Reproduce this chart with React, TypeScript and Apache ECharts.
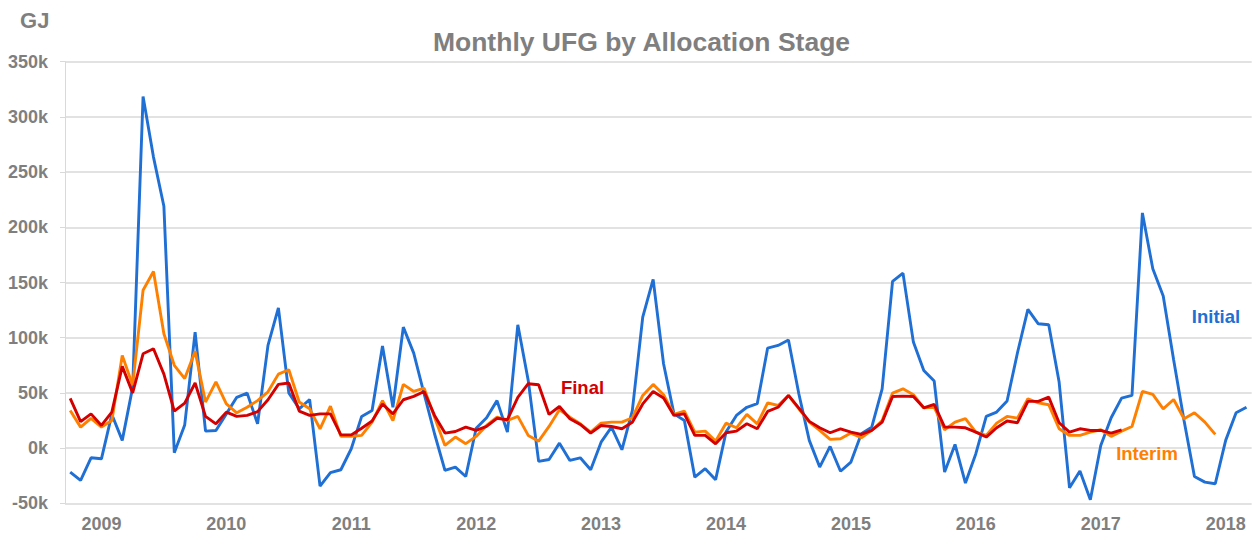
import React, { useEffect, useRef } from "react";
import * as echarts from "echarts";

// Monthly categories: Oct 2008 .. Mar 2018 (114 months)
const START_YEAR = 2008;
const START_MONTH = 10;
const MONTH_COUNT = 114;
const categories: string[] = [];
for (let i = 0; i < MONTH_COUNT; i++) {
  const m0 = START_MONTH - 1 + i;
  const y = START_YEAR + Math.floor(m0 / 12);
  const m = (m0 % 12) + 1;
  categories.push(`${y}-${m < 10 ? "0" + m : m}`);
}

const yTicks = [-50, 0, 50, 100, 150, 200, 250, 300, 350];

// values in thousand GJ
const initialK = [
  -21.7, -29.3, -8.8, -9.7, 30.5, 7, 55, 318.5, 263.6, 219,
  -4.2, 21, 105, 15.4, 16, 31, 46, 49.8, 22, 93,
  127, 50, 35.6, 44, -34.4, -22.3, -19.6, -0.6, 28.7, 34,
  92.4, 37, 109.6, 86, 49, 13, -20.2, -17.2, -25.7, 18,
  27.5, 43, 14.5, 111.7, 61.3, -12, -10.3, 4.5, -11.2, -8.8,
  -19.6, 5.4, 19, -1.5, 34, 118.7, 152.8, 76.4, 31, 25,
  -26.3, -18.7, -28.7, 14.5, 29.6, 37, 40.2, 90.6, 93, 98,
  49, 7, -17.2, 1.5, -21, -12.7, 13, 19, 53.7, 151,
  158.5, 96, 70.3, 60.7, -21.7, 3.3, -31.7, -5.1, 28.7, 32.6,
  42.6, 86.4, 125.6, 112.6, 111.7, 59.8, -36, -20.8, -46.8, 2.4,
  27.5, 45.3, 47.7, 213, 162.4, 137.7, 80, 25, -25.7, -30.8,
  -32.3, 7, 32, 37,
];

const interimK = [
  34, 19, 27, 19, 25, 84, 57, 143, 160, 103.6,
  75, 63, 87.6, 41.7, 60, 40, 32, 37, 43, 51,
  67, 71, 41.7, 35.6, 17.5, 38, 10.6, 10.6, 11.5, 23.5,
  43, 25, 57.7, 51.3, 54.3, 28, 2.4, 10, 4, 10.6,
  20.5, 28, 25, 28.7, 11.5, 6.3, 19.6, 34.7, 28, 22,
  14.5, 22.6, 23.5, 23.5, 27.5, 47.7, 57.7, 48.3, 30.5, 33.5,
  14.5, 15.4, 6.3, 22.6, 18.4, 30.5, 22, 41, 38.6, 47.7,
  35.6, 23.5, 16, 7.9, 8.5, 13.6, 9.4, 16, 25, 49.8,
  53.7, 48.3, 36.5, 37, 16.6, 23.5, 26.6, 14.5, 11.5, 22.6,
  28.7, 27.2, 44.7, 41, 39.3, 17.5, 11.5, 11.5, 14.5, 16.6,
  10.6, 15.4, 19.6, 51.3, 48.6, 35.6, 44, 26.6, 32, 23.5,
  12.4,
];

const finalK = [
  45, 24, 31, 20.5, 32.6, 74, 50, 85.4, 90, 67,
  33.5, 40.8, 59, 28.7, 22, 32.6, 28.7, 29.6, 33, 43.8,
  57.7, 59, 33.5, 29.6, 31, 31, 12, 12, 18, 24.5,
  40, 31, 43.8, 46.8, 51.3, 29.6, 13.6, 15, 19, 16,
  19.6, 27, 25.7, 46, 58.3, 57.4, 30.5, 37.7, 26.6, 21.4,
  13.6, 20.5, 19.6, 17.5, 23.5, 40, 51.3, 45.3, 29.6, 31,
  11.5, 11.5, 3.9, 13.9, 15.4, 22, 17.5, 33.2, 37, 47.7,
  36.2, 24.2, 18.4, 13.9, 17.5, 14.5, 12.4, 16, 23.5, 46.8,
  47.1, 46.8, 36.5, 39.6, 19, 19, 18.4, 14.5, 10, 18.4,
  24.5, 23, 42.3, 42.3, 46.2, 23, 14.5, 17.5, 16, 16,
  13.6, 16.6,
];

const toGJ = (arr: number[]) => arr.map((v) => v * 1000);

const GRAY = "#7f7f7f";
const GRID_COLOR = "#d9d9d9";
const BLUE = "#1f6fd4";
const ORANGE = "#ff8000";
const RED = "#d40000";
const FONT = "'Liberation Sans', Arial, sans-serif";

export default function App() {
  const ref = useRef<HTMLDivElement>(null);

  useEffect(() => {
    if (!ref.current) return;
    const chart = echarts.init(ref.current, undefined, { renderer: "svg" });
    const option: any = {
      animation: false,
      backgroundColor: "#ffffff",
      textStyle: { fontFamily: FONT },
      grid: { left: 65, right: 1.3, top: 61.7, bottom: 31.7, containLabel: false },
      xAxis: {
        type: "category",
        data: categories,
        boundaryGap: true,
        axisLine: { show: false },
        axisTick: { show: false },
        splitLine: { show: false },
        axisLabel: {
          interval: (idx: number, val: string) => val.endsWith("-01"),
          formatter: (val: string) => val.slice(0, 4),
          color: GRAY,
          fontSize: 18,
          fontWeight: "bold",
          fontFamily: FONT,
          margin: 12,
        },
      },
      yAxis: {
        type: "value",
        min: yTicks[0] * 1000,
        max: yTicks[yTicks.length - 1] * 1000,
        interval: 50000,
        axisLine: { show: true, lineStyle: { color: GRID_COLOR, width: 1 } },
        axisTick: { show: true, length: 5, lineStyle: { color: GRID_COLOR } },
        splitLine: { show: true, lineStyle: { color: GRID_COLOR, width: 1.5 } },
        axisLabel: {
          formatter: (v: number) => `${v / 1000}k`,
          color: GRAY,
          fontSize: 18,
          fontWeight: "bold",
          fontFamily: FONT,
          margin: 17,
        },
      },
      series: [
        {
          name: "Initial",
          type: "line",
          data: toGJ(initialK),
          symbol: "none",
          lineStyle: { color: BLUE, width: 2.9 },
          itemStyle: { color: BLUE },
          z: 2,
        },
        {
          name: "Interim",
          type: "line",
          data: toGJ(interimK),
          symbol: "none",
          lineStyle: { color: ORANGE, width: 2.9 },
          itemStyle: { color: ORANGE },
          z: 3,
        },
        {
          name: "Final",
          type: "line",
          data: toGJ(finalK),
          symbol: "none",
          lineStyle: { color: RED, width: 2.9 },
          itemStyle: { color: RED },
          z: 4,
        },
      ],
      graphic: [
        {
          type: "text",
          x: 641.5,
          y: 42,
          style: {
            text: "Monthly UFG by Allocation Stage",
            fill: GRAY,
            font: `bold 26.5px ${FONT}`,
            textAlign: "center",
            textVerticalAlign: "middle",
          },
        },
        {
          type: "text",
          x: 34.7,
          y: 20.5,
          style: {
            text: "GJ",
            fill: GRAY,
            font: `bold 22px ${FONT}`,
            textAlign: "center",
            textVerticalAlign: "middle",
          },
        },
        {
          type: "text",
          x: 1216,
          y: 316,
          z: 10,
          style: {
            text: "Initial",
            fill: BLUE,
            font: `bold 18.5px ${FONT}`,
            textAlign: "center",
            textVerticalAlign: "middle",
          },
        },
        {
          type: "text",
          x: 1147,
          y: 453,
          z: 10,
          style: {
            text: "Interim",
            fill: ORANGE,
            font: `bold 18.5px ${FONT}`,
            textAlign: "center",
            textVerticalAlign: "middle",
          },
        },
        {
          type: "text",
          x: 582.5,
          y: 387,
          z: 10,
          style: {
            text: "Final",
            fill: RED,
            font: `bold 18.5px ${FONT}`,
            textAlign: "center",
            textVerticalAlign: "middle",
          },
        },
      ],
    };
    chart.setOption(option);
    return () => chart.dispose();
  }, []);

  return (
    <div
      ref={ref}
      style={{ position: "fixed", left: 0, top: 0, width: 1253, height: 535 }}
    />
  );
}
